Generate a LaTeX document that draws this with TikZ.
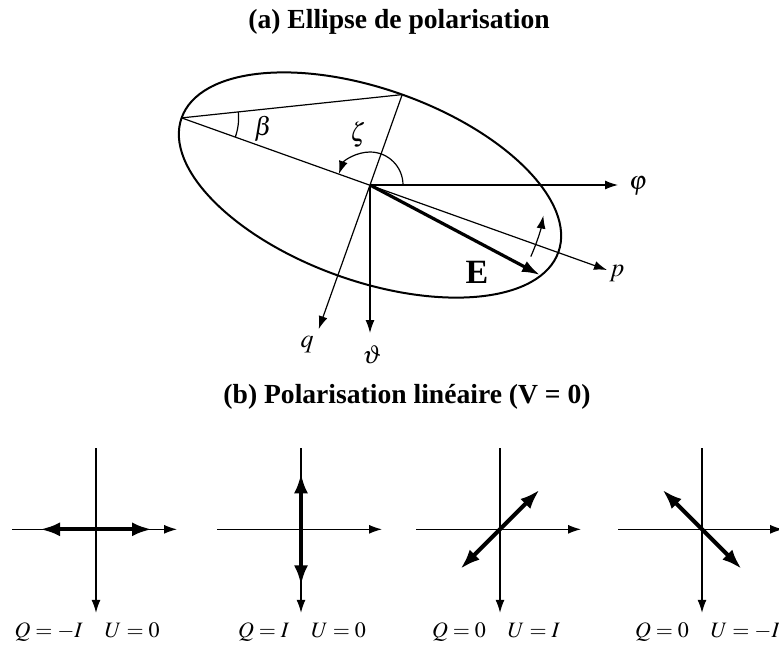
\documentclass[tikz,border=0pt]{standalone}
\usepackage{mathptmx}
\usepackage[no-math]{fontspec}
\setmainfont{Liberation Serif}
\usetikzlibrary{arrows.meta}

\tikzset{
  axis/.style={line width=0.6pt,-{Latex[length=6.5pt,width=4.5pt]}},
  polvec/.style={line width=2pt,{Latex[length=10pt,width=7pt]}-{Latex[length=10pt,width=7pt]}},
  evec/.style={line width=1.6pt,-{Latex[length=9pt,width=6pt]}},
  lbl/.style={font=\fontsize{11}{13}\selectfont},
  glbl/.style={font=\fontsize{13}{15}\selectfont},
  ttl/.style={font=\bfseries\fontsize{13.8}{16}\selectfont},
}

\begin{document}
\begin{tikzpicture}[x=0.5pt,y=0.5pt]
\clip (0,0) rectangle (779,645);

% titles
\node[ttl] (titleA) at (399,623) {(a) Ellipse de polarisation};
\node[ttl] (titleB) at (407,248) {(b) Polarisation linéaire (V = 0)};

% (a) polarisation ellipse
\coordinate (O) at (370,460);
\coordinate (A) at (181.6,527.1);
\coordinate (B) at (402.2,550.4);
\coordinate (p) at (607,375);
\coordinate (phi) at (618,460);
\coordinate (q) at (318.7,315.9);
\coordinate (theta) at (370,312);
\coordinate (Etip) at (540,370);

\draw[line width=1pt,rotate=-19.6] (O) ellipse (200 and 96);
\draw[line width=0.6pt] (A) -- (B);
\draw[axis] (A) -- (p);
\draw[axis] (B) -- (q);
\draw[axis] (O) -- (phi);
\draw[axis] (O) -- (theta);
\draw[evec] (O) -- (Etip);

\draw[line width=0.6pt] (A) ++(-19.6:57) arc[start angle=-19.6,end angle=6,radius=57];
\draw[axis] (O) ++(0:33) arc[start angle=0,end angle=160.4,radius=33];
\draw[axis] (O) ++(-24:176) arc[start angle=-24,end angle=-10,radius=176];

\node[glbl] (philbl) at (638,459) {$\varphi$};
\node[glbl] (plbl) at (617,372) {$p$};
\node[glbl] (qlbl) at (307,300) {$q$};
\node[glbl] (thetalbl) at (372,290) {$\vartheta$};
\node[glbl] (betalbl) at (263,516) {$\beta$};
\node[glbl] (zetalbl) at (358,510) {$\zeta$};
\node[font=\bfseries\fontsize{17}{19}\selectfont] (Elbl) at (477,373) {E};

% (b) linear polarisation
\foreach \i/\cx/\a in {1/96/0,2/301/90,3/500/45,4/702/-45} {
  \coordinate (c\i) at (\cx,115.7);
  \draw[axis] (c\i) ++(-84,0) -- ++(165,0);
  \draw[axis] (c\i) ++(0,81) -- ++(0,-164.5);
  \draw[polvec] (c\i) ++(\a+180:56) -- ++(\a:112);
}
\node[lbl] (lab1) at (87,13) {$Q=-I\quad U=0$};
\node[lbl] (lab2) at (302,13) {$Q=I\quad U=0$};
\node[lbl] (lab3) at (496,13) {$Q=0\quad U=I$};
\node[lbl] (lab4) at (707.5,13) {$Q=0\quad U=-I$};
\end{tikzpicture}
\end{document}
